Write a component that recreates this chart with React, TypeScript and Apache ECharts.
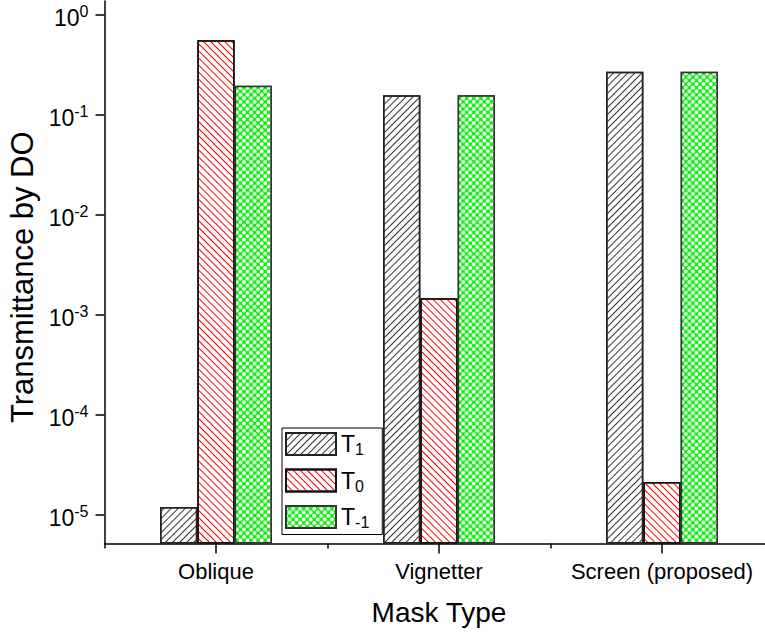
import React, { useEffect, useRef } from "react";
import * as echarts from "echarts";

const categories = ["Oblique", "Vignetter", "Screen (proposed)"];
const seriesNames = ["T1", "T0", "T-1"];
const seriesSubscripts = ["1", "0", "-1"];
const valuesT1 = [1.2e-5, 0.158, 0.271];
const valuesT0 = [0.558, 1.47e-3, 2.14e-5];
const valuesTm1 = [0.196, 0.158, 0.271];
const yTicks = [1e-5, 1e-4, 1e-3, 1e-2, 1e-1, 1];
const yMin = Math.pow(10, -5.285);
const yMax = Math.pow(10, 0.14);

const FONT = "Liberation Sans, Arial, sans-serif";

export default function App() {
  const ref = useRef<HTMLDivElement>(null);
  useEffect(() => {
    if (!ref.current) return;
    const chart = echarts.init(ref.current, undefined, { renderer: "svg" });
    const subOf = (name: string) => seriesSubscripts[seriesNames.indexOf(name)];
    const barCommon = {
      type: "bar" as const,
      barWidth: 37.3,
      barGap: "0%",
      xAxisIndex: 0,
      yAxisIndex: 0,
    };
    chart.setOption({
      animation: false,
      backgroundColor: "#fff",
      textStyle: { fontFamily: FONT },
      grid: {
        left: 104.5,
        right: -8.5,
        top: 1,
        bottom: 90.5,
        containLabel: false,
        outerBoundsMode: "none",
      },
      legend: {
        data: seriesNames,
        orient: "vertical",
        left: 282,
        top: 428,
        itemWidth: 50,
        itemHeight: 22,
        itemGap: 11,
        icon: "rect",
        borderColor: "#000",
        borderWidth: 1,
        padding: [4, 13, 4, 3],
        backgroundColor: "#fff",
        selectedMode: false,
        formatter: (name: string) => `{t|T}{s|${subOf(name)}}`,
        textStyle: {
          fontFamily: FONT,
          fontSize: 23,
          color: "#000",
          rich: {
            t: { fontSize: 23, lineHeight: 27, color: "#000" },
            s: { fontSize: 16, lineHeight: 10, verticalAlign: "bottom", color: "#000" },
          },
        },
      },
      xAxis: [
        {
          type: "category",
          data: categories,
          position: "bottom",
          axisLine: { show: true, lineStyle: { color: "#000", width: 1.5 } },
          axisTick: { show: true, alignWithLabel: true, length: 10, lineStyle: { color: "#000", width: 1.5 } },
          axisLabel: { interval: 0, fontSize: 22, color: "#000", margin: 17, fontFamily: FONT },
          splitLine: { show: false },
          name: "Mask Type",
          nameLocation: "middle",
          nameGap: 55,
          nameTextStyle: { fontSize: 28, color: "#000", fontFamily: FONT },
        },
        {
          type: "category",
          data: categories,
          position: "bottom",
          axisLine: { show: false },
          axisTick: { show: true, alignWithLabel: false, interval: 0, length: 5, lineStyle: { color: "#000", width: 1.5 } },
          axisLabel: { show: false },
          splitLine: { show: false },
        },
      ],
      yAxis: {
        type: "log",
        logBase: 10,
        min: yMin,
        max: yMax,
        startValue: yMin,
        axisLine: { show: true, lineStyle: { color: "#000", width: 1.5 } },
        axisTick: { show: true, length: 9, customValues: yTicks, lineStyle: { color: "#000", width: 1.5 } },
        minorTick: { show: false },
        splitLine: { show: false },
        axisLabel: {
          customValues: yTicks,
          margin: 16,
          fontSize: 23,
          fontFamily: FONT,
          color: "#000",
          padding: [5, 0, 0, 0],
          formatter: (v: number) => `{b|10}{s|${Math.round(Math.log10(v))}}`,
          rich: {
            b: { fontSize: 23, lineHeight: 28, color: "#000" },
            s: { fontSize: 16, lineHeight: 17, verticalAlign: "top", color: "#000" },
          },
        },
        name: "Transmittance by DO",
        nameLocation: "middle",
        nameGap: 63,
        nameTextStyle: { fontSize: 31, color: "#000", fontFamily: FONT, padding: [0, 10, 0, 0] },
      },
      series: [
        {
          ...barCommon,
          name: "T1",
          data: valuesT1,
          itemStyle: {
            color: "#fff",
            borderColor: "#222",
            borderWidth: 1.5,
            decal: {
              symbol: "rect",
              symbolSize: 1,
              dashArrayX: [1, 0],
              dashArrayY: [0.9, 3.6],
              rotation: -Math.PI / 4,
              color: "#333",
            },
          },
        },
        {
          ...barCommon,
          name: "T0",
          data: valuesT0,
          itemStyle: {
            color: "#fff",
            borderColor: "#111",
            borderWidth: 1.5,
            decal: {
              symbol: "rect",
              symbolSize: 1,
              dashArrayX: [1, 0],
              dashArrayY: [0.9, 3.6],
              rotation: Math.PI / 4,
              color: "#ff0000",
            },
          },
        },
        {
          ...barCommon,
          name: "T-1",
          data: valuesTm1,
          itemStyle: {
            color: "#00ee00",
            borderColor: "#333",
            borderWidth: 1.5,
            decal: {
              symbol: "circle",
              symbolSize: 1,
              dashArrayX: [3.2, 1],
              dashArrayY: [3.2, 1],
              rotation: Math.PI / 4,
              color: "#ffffff",
            },
          },
        },
      ],
    });
    return () => chart.dispose();
  }, []);
  return (
    <div
      ref={ref}
      style={{ position: "fixed", left: 0, top: 0, width: 765, height: 634 }}
    />
  );
}
